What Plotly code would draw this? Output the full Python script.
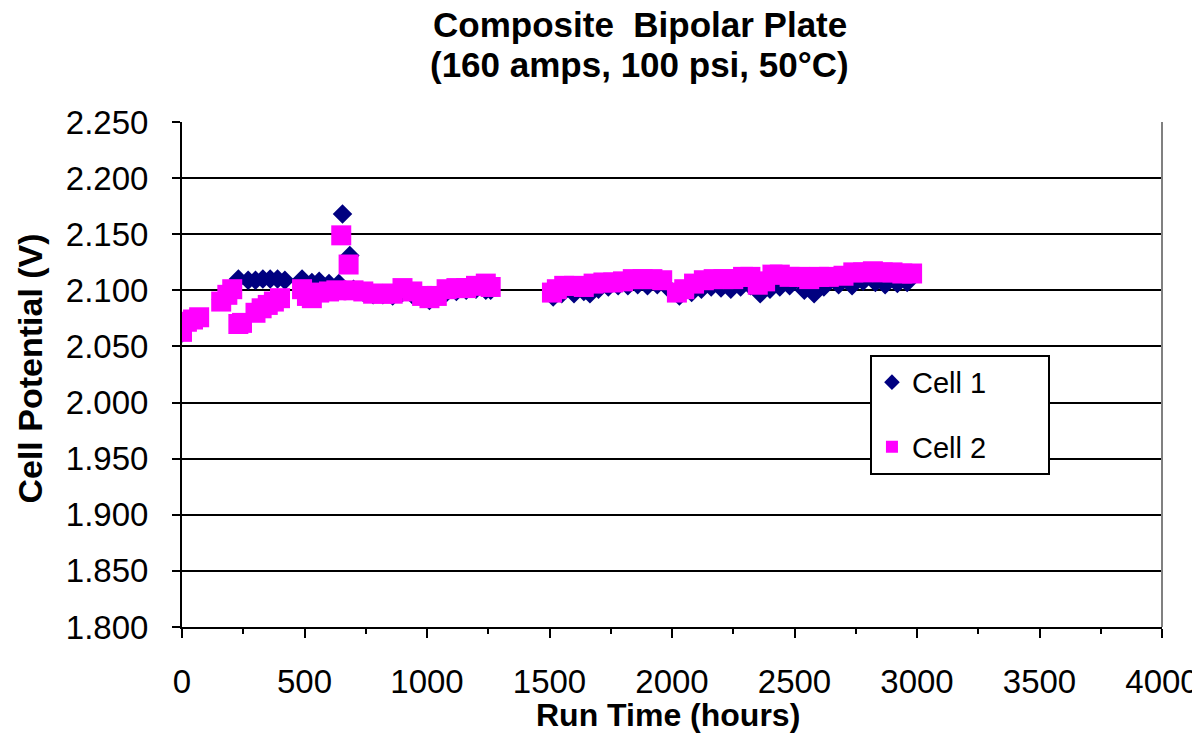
import plotly.graph_objects as go

hours_c1 = [0, 20, 45, 70, 160, 185, 205, 230, 270, 300, 330, 360, 390, 420, 490, 530, 560, 600, 640, 655, 685,
            700, 740, 780, 820, 860, 900, 940, 980, 1010, 1040, 1080, 1120, 1160, 1200, 1240, 1260,
            1515, 1550, 1600, 1640, 1665, 1700, 1740, 1780, 1820, 1860, 1900, 1940, 1980, 2030, 2080, 2120,
            2160, 2200, 2240, 2280, 2320, 2360, 2400, 2440, 2480, 2540, 2580, 2620, 2680, 2735, 2780, 2830,
            2870, 2920, 2960]
volts_c1 = [2.062, 2.070, 2.073, 2.075, 2.092, 2.097, 2.103, 2.110, 2.109, 2.109, 2.110, 2.110, 2.110, 2.109,
            2.110, 2.107, 2.108, 2.106, 2.106, 2.168, 2.131,
            2.101, 2.098, 2.096, 2.096, 2.095, 2.098, 2.096, 2.093, 2.091, 2.093, 2.098, 2.099, 2.100, 2.101,
            2.100, 2.100,
            2.094, 2.097, 2.097, 2.099, 2.097, 2.101, 2.103, 2.104, 2.104, 2.105, 2.104, 2.105, 2.103, 2.095,
            2.098, 2.101, 2.103, 2.102, 2.101, 2.103, 2.104, 2.097, 2.101, 2.103, 2.104, 2.100, 2.097, 2.103,
            2.105, 2.104, 2.108, 2.107, 2.105, 2.106, 2.107]

hours_c2 = [0, 20, 45, 70, 160, 185, 205, 230, 245, 300, 325, 350, 375, 400, 490, 510, 530, 560, 600, 630,
            650, 680, 700, 740, 780, 820, 860, 900, 940, 980, 1010, 1040, 1080, 1120, 1160, 1200, 1240, 1260,
            1510, 1530, 1560, 1600, 1640, 1680, 1720, 1760, 1800, 1840, 1880, 1920, 1960, 2020, 2050, 2090,
            2130, 2170, 2210, 2250, 2290, 2320, 2350, 2380, 2410, 2440, 2480, 2520, 2560, 2600, 2640, 2700,
            2740, 2780, 2820, 2860, 2900, 2940, 2980]
volts_c2 = [2.063, 2.072, 2.074, 2.076, 2.090, 2.096, 2.101, 2.070, 2.071, 2.080, 2.084, 2.087, 2.090, 2.093,
            2.101, 2.095, 2.093, 2.098, 2.099, 2.100, 2.149, 2.123, 2.100, 2.099, 2.097, 2.097, 2.097, 2.102,
            2.099, 2.095, 2.093, 2.095, 2.101, 2.102, 2.102, 2.104, 2.106, 2.103,
            2.098, 2.101, 2.104, 2.104, 2.103, 2.106, 2.107, 2.107, 2.108, 2.110, 2.110, 2.110, 2.109, 2.098,
            2.101, 2.106, 2.109, 2.110, 2.110, 2.110, 2.112, 2.112, 2.105, 2.108, 2.114, 2.114, 2.112, 2.112,
            2.110, 2.112, 2.112, 2.113, 2.116, 2.116, 2.117, 2.116, 2.116, 2.115, 2.115]

x_ticks = [0, 500, 1000, 1500, 2000, 2500, 3000, 3500, 4000]
y_ticks = [1.800, 1.850, 1.900, 1.950, 2.000, 2.050, 2.100, 2.150, 2.200, 2.250]
y_tick_text = ["%.3f" % v for v in y_ticks]

title_lines = ["Composite  Bipolar Plate", "(160 amps, 100 psi, 50°C)"]
x_title = "Run Time (hours)"
y_title = "Cell Potential (V)"

FONT = "Arial, Liberation Sans, sans-serif"
PAD = "&nbsp;" * 7

fig = go.Figure()
fig.add_trace(go.Scatter(x=hours_c1, y=volts_c1, mode="markers", name="Cell 1" + PAD,
                         marker=dict(symbol="diamond", size=15, color="#000080", line=dict(width=0)),
                         legendgroup="a"))
fig.add_trace(go.Scatter(x=hours_c2, y=volts_c2, mode="markers", name="Cell 2" + PAD,
                         marker=dict(symbol="square", size=20, color="#FF00FF", line=dict(width=0)),
                         legendgroup="b"))

# page body has an 8px margin, so the figure is 1192x725 and margins are reduced by 8px
fig.update_layout(
    width=1192, height=725,
    margin=dict(l=174, r=38, t=114, b=106, autoexpand=False),
    paper_bgcolor="white", plot_bgcolor="white",
    font=dict(family=FONT, size=30, color="black"),
    showlegend=True,
    legend=dict(x=0.702, y=0.539, xanchor="left", yanchor="top",
                bgcolor="white", bordercolor="black", borderwidth=2,
                font=dict(family=FONT, size=29, color="black"),
                tracegroupgap=24, itemsizing="constant"),
    xaxis=dict(range=[0, 4000], tickvals=x_ticks, ticktext=[str(v) for v in x_ticks],
               showgrid=False, zeroline=False, showline=True, linecolor="black", linewidth=2,
               ticks="outside", ticklen=9, tickwidth=2, tickcolor="black",
               minor=dict(dtick=250, ticks="outside", ticklen=5, tickwidth=2, tickcolor="black", showgrid=False),
               ticklabelstandoff=15, automargin=False,
               tickfont=dict(family=FONT, size=33, color="black")),
    yaxis=dict(range=[1.8, 2.25], tickvals=y_ticks, ticktext=y_tick_text,
               showgrid=True, gridcolor="black", gridwidth=2,
               zeroline=False, showline=True, linecolor="black", linewidth=2,
               ticks="outside", ticklen=8, tickwidth=2, tickcolor="black",
               ticklabelstandoff=17, automargin=False,
               tickfont=dict(family=FONT, size=33, color="black")),
)

# titles as annotations
fig.add_annotation(text="<b>%s</b>" % title_lines[0], xref="paper", yref="paper",
                   x=0.467, y=1.193, xanchor="center", yanchor="middle", showarrow=False,
                   borderpad=0, font=dict(family=FONT, size=35, color="black"))
fig.add_annotation(text="<b>%s</b>" % title_lines[1], xref="paper", yref="paper",
                   x=0.467, y=1.113, xanchor="center", yanchor="middle", showarrow=False,
                   borderpad=0, font=dict(family=FONT, size=35, color="black"))
fig.add_annotation(text="<b>%s</b>" % x_title, xref="paper", yref="paper",
                   x=0.496, y=-0.174, xanchor="center", yanchor="middle", showarrow=False,
                   font=dict(family=FONT, size=32, color="black"))
fig.add_annotation(text="<b>%s</b>" % y_title, xref="paper", yref="paper",
                   x=-0.155, y=0.512, xanchor="center", yanchor="middle", showarrow=False,
                   textangle=-90, font=dict(family=FONT, size=34, color="black"))

# grey right border of the plot area
fig.add_shape(type="line", xref="paper", yref="paper", x0=1, x1=1, y0=0, y1=1,
              line=dict(color="#808080", width=2))
# small blue decoration at the top-right corner
fig.add_shape(type="path", xref="paper", yref="paper",
              path="M 1.0163 1.2337 L 1.0357 1.2436 L 1.0357 1.2356 L 1.0184 1.2277 Z",
              fillcolor="#1A7DC0", line=dict(width=0))

fig.write_html("out.html")
